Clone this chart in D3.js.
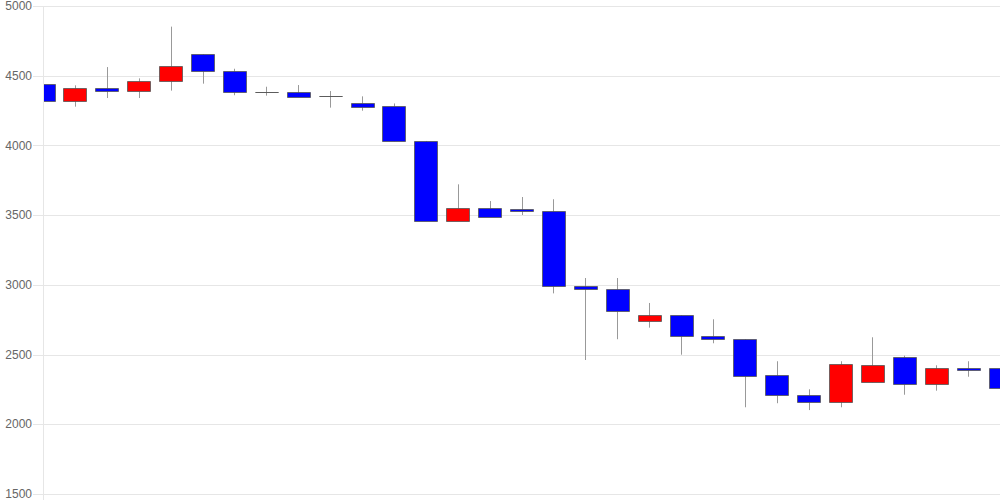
<!DOCTYPE html>
<html>
<head>
<meta charset="utf-8">
<script src="https://cdn.jsdelivr.net/npm/d3@7/dist/d3.min.js"></script>
<style>
  html, body { margin: 0; padding: 0; background: #fff; }
  svg { display: block; }
</style>
</head>
<body>
<svg id="chart" width="1000" height="500"></svg>
<script>
const categories = Array.from({length: 31}, (_, i) => String(i + 1));
const openValues  = [4443,4321,4412,4390,4460,4654,4534,4381,4381,4352,4302,4283,4032,3460,3551,3544,3532,2992,2970,2739,2782,2631,2610,2351,2212,2160,2301,2483,2291,2402,2402];
const highValues  = [4443,4431,4562,4481,4852,4654,4550,4421,4433,4390,4352,4301,4032,3721,3601,3630,3614,3049,3049,2870,2782,2753,2610,2452,2251,2452,2624,2492,2423,2452,2442];
const lowValues   = [4321,4278,4340,4340,4393,4443,4360,4357,4350,4271,4249,4030,3460,3460,3489,3501,2939,2461,2610,2693,2499,2581,2122,2151,2102,2122,2301,2212,2241,2341,2260];
const closeValues = [4321,4410,4390,4462,4572,4532,4381,4381,4350,4352,4278,4030,3460,3551,3489,3530,2990,2970,2810,2782,2631,2610,2349,2210,2160,2432,2423,2291,2402,2389,2260];
const yTicks = [1500, 2000, 2500, 3000, 3500, 4000, 4500, 5000];

(function () {
  const data = categories.map((c, i) => ({
    cat: c, open: openValues[i], high: highValues[i], low: lowValues[i], close: closeValues[i]
  }));

  const svg = d3.select("#chart");
  const mLeft = 43, mRight = 1000, mTop = 6, mBottom = 494;

  const x = d3.scalePoint().domain(categories).range([mLeft, mRight]);
  const y = d3.scaleLinear().domain([1500, 5000]).range([mBottom, mTop]);

  // grid lines
  svg.append("g").selectAll("line").data(yTicks).enter().append("line")
    .attr("x1", 33).attr("x2", mRight)
    .attr("y1", d => Math.round(y(d)) + 0.5).attr("y2", d => Math.round(y(d)) + 0.5)
    .attr("stroke", "#e6e6e6").attr("stroke-width", 1);

  // vertical axis line
  svg.append("line")
    .attr("x1", mLeft + 0.5).attr("x2", mLeft + 0.5)
    .attr("y1", mTop).attr("y2", mBottom + 6)
    .attr("stroke", "#e6e6e6").attr("stroke-width", 1);

  // y axis labels
  svg.append("g").selectAll("text").data(yTicks).enter().append("text")
    .attr("x", 32).attr("y", d => y(d))
    .attr("dy", "0.35em")
    .attr("text-anchor", "end")
    .attr("font-family", "Liberation Sans, Arial, sans-serif")
    .attr("font-size", 12)
    .attr("fill", "#666")
    .text(d => d);

  // clip
  svg.append("defs").append("clipPath").attr("id", "plotclip")
    .append("rect").attr("x", mLeft + 1).attr("y", 0).attr("width", mRight - mLeft - 1).attr("height", 500);

  const plot = svg.append("g").attr("clip-path", "url(#plotclip)");
  const bw = 23;

  const candles = plot.selectAll("g.c").data(data).enter().append("g").attr("class", "c");

  candles.append("line")
    .attr("x1", d => Math.round(x(d.cat)) + 0.5)
    .attr("x2", d => Math.round(x(d.cat)) + 0.5)
    .attr("y1", d => y(d.high))
    .attr("y2", d => y(d.low))
    .attr("stroke", "#999").attr("stroke-width", 1);

  candles.append("path")
    .attr("d", d => {
      const x0 = Math.round(x(d.cat) - bw / 2) + 0.5;
      const yt = Math.round(y(Math.max(d.open, d.close))) + 0.5;
      const yb = Math.round(y(Math.min(d.open, d.close))) + 0.5;
      return `M${x0},${yt}H${x0 + bw}V${yb}H${x0}Z`;
    })
    .attr("fill", d => d.close > d.open ? "#ff0000" : "#0000ff")
    .attr("stroke", "#555")
    .attr("stroke-opacity", 0.8)
    .attr("stroke-width", 1);
})();
</script>
</body>
</html>
